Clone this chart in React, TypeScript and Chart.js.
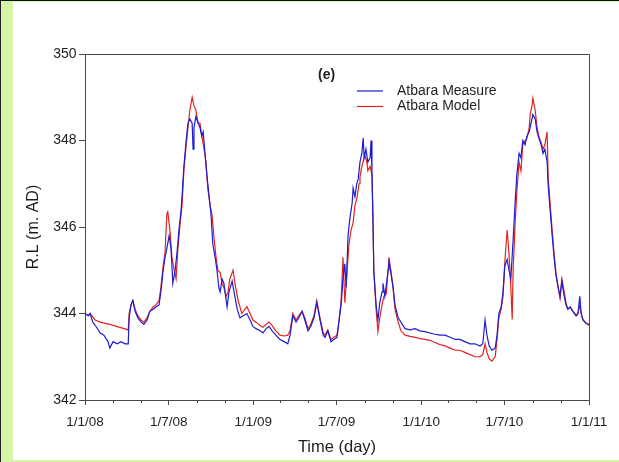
import { useEffect, useRef } from "react";
import { Chart, registerables } from "chart.js";

Chart.register(...registerables);

const FONT = '"Liberation Sans", Arial, Helvetica, sans-serif';

// Day numbers are counted from 1 Jan 2008; levels are R.L in metres AD.
const measureDays = [
  0, 7, 11, 17, 24, 33, 41, 50, 54, 61,
  70, 78, 87, 94, 96, 100, 104, 109, 115, 122,
  128, 135, 141, 148, 154, 161, 165, 170, 174, 178,
  183, 187, 191, 196, 200, 204, 209, 211, 215, 220,
  224, 228, 233, 235, 237, 241, 246, 250, 254, 257,
  261, 265, 270, 274, 278, 283, 287, 291, 294, 298,
  302, 307, 309, 313, 320, 324, 331, 337, 344, 352,
  359, 365, 372, 381, 387, 394, 400, 407, 415, 424,
  433, 441, 446, 452, 459, 465, 472, 478, 485, 491,
  498, 504, 511, 518, 522, 528, 535, 541, 548, 552,
  557, 561, 565, 568, 572, 576, 581, 583, 587, 591,
  594, 598, 602, 605, 607, 611, 615, 620, 622, 624,
  626, 628, 633, 637, 641, 646, 648, 652, 657, 661,
  665, 670, 674, 681, 687, 696, 707, 718, 728, 739,
  750, 761, 772, 783, 794, 805, 815, 826, 837, 848,
  859, 865, 870, 874, 879, 885, 892, 896, 900, 905,
  909, 913, 918, 922, 926, 931, 935, 939, 944, 948,
  952, 957, 961, 966, 970, 974, 979, 983, 987, 992,
  996, 1000, 1005, 1007, 1011, 1016, 1020, 1024, 1029, 1033,
  1037, 1042, 1046, 1050, 1055, 1061, 1068, 1072, 1076, 1079,
  1083, 1089, 1096,
];

const measureLevels = [
  344.0, 343.95, 344.0, 343.8, 343.7, 343.55, 343.5, 343.35, 343.2, 343.35,
  343.3, 343.35, 343.3, 343.3, 343.9, 344.2, 344.3, 344.05, 343.9, 343.8,
  343.75, 343.85, 344.05, 344.1, 344.15, 344.2, 344.5, 345.0, 345.3, 345.5,
  345.8, 345.5, 344.7, 345.0, 345.4, 345.9, 346.4, 346.7, 347.4, 348.0,
  348.4, 348.5, 348.4, 347.8, 348.3, 348.55, 348.4, 348.3, 348.1, 348.2,
  347.7, 347.2, 346.7, 346.3, 345.6, 345.3, 345.0, 344.6, 344.5, 344.8,
  344.7, 344.3, 344.15, 344.5, 344.75, 344.5, 344.1, 343.9, 343.95, 344.0,
  343.85, 343.7, 343.65, 343.6, 343.55, 343.65, 343.7, 343.6, 343.5, 343.4,
  343.35, 343.3, 343.5, 343.95, 343.8, 343.9, 344.05, 343.85, 343.6, 343.7,
  343.9, 344.25, 343.85, 343.5, 343.45, 343.6, 343.35, 343.4, 343.45, 343.8,
  344.2, 344.8, 345.15, 344.6, 345.8, 346.2, 346.56, 346.9, 346.7, 347.0,
  347.1, 347.5, 347.7, 348.06, 347.6, 347.8, 347.5, 347.6, 348.0, 347.3,
  346.3, 345.0, 344.2, 343.85, 344.25, 344.5, 344.7, 344.4, 344.8, 345.2,
  344.95, 344.6, 344.2, 343.9, 343.8, 343.65, 343.62, 343.65, 343.6, 343.58,
  343.55, 343.52, 343.5, 343.5, 343.45, 343.4, 343.4, 343.35, 343.3, 343.3,
  343.25, 343.3, 343.85, 343.5, 343.25, 343.15, 343.2, 343.5, 344.0, 344.15,
  344.5, 345.1, 345.25, 345.0, 344.8, 345.7, 346.5, 347.2, 347.7, 347.6,
  348.0, 347.9, 348.1, 348.2, 348.4, 348.6, 348.5, 348.2, 348.05, 347.9,
  347.7, 347.8, 347.5, 347.0, 346.45, 345.8, 345.3, 344.9, 344.6, 344.4,
  344.75, 344.4, 344.2, 344.1, 344.15, 344.05, 343.95, 344.0, 344.4, 344.0,
  343.85, 343.78, 343.75,
];

const modelDays = [
  0, 7, 11, 22, 33, 54, 76, 94, 96, 100,
  104, 109, 115, 122, 128, 135, 141, 148, 154, 161,
  165, 170, 174, 178, 180, 185, 189, 194, 198, 202,
  207, 211, 215, 220, 224, 228, 233, 237, 241, 246,
  250, 254, 259, 263, 267, 272, 276, 281, 285, 289,
  294, 298, 302, 307, 311, 315, 322, 326, 333, 341,
  348, 352, 359, 365, 372, 381, 387, 394, 400, 407,
  415, 424, 433, 441, 446, 452, 459, 465, 472, 478,
  485, 491, 498, 504, 511, 518, 522, 528, 535, 541,
  548, 552, 557, 561, 563, 565, 570, 574, 578, 583,
  587, 591, 596, 598, 602, 607, 609, 613, 615, 620,
  624, 626, 628, 633, 637, 641, 646, 650, 655, 659,
  661, 665, 670, 674, 681, 687, 696, 707, 718, 728,
  739, 750, 761, 772, 783, 794, 805, 815, 826, 837,
  848, 859, 865, 870, 874, 879, 885, 892, 896, 900,
  905, 909, 913, 918, 922, 926, 929, 931, 935, 939,
  944, 948, 952, 957, 961, 966, 968, 972, 974, 979,
  983, 987, 992, 996, 1000, 1005, 1007, 1011, 1016, 1020,
  1024, 1029, 1033, 1037, 1042, 1046, 1050, 1055, 1061, 1068,
  1072, 1076, 1079, 1083, 1089, 1096,
];

const modelLevels = [
  344.0, 343.95, 344.0, 343.85, 343.8, 343.75, 343.68, 343.62, 344.0, 344.2,
  344.3, 344.1, 343.95, 343.85, 343.8, 343.9, 344.05, 344.15, 344.2, 344.3,
  344.6, 345.1, 345.4, 346.3, 346.35, 345.9, 345.3, 345.0, 344.8, 345.5,
  346.1, 346.5, 347.3, 347.9, 348.3, 348.7, 349.0, 348.8, 348.7, 348.4,
  348.4, 348.1, 347.8, 347.5, 346.9, 346.5, 346.3, 345.7, 345.3, 345.0,
  344.94, 344.7, 344.6, 344.4, 344.5, 344.8, 345.0, 344.7, 344.3, 344.0,
  344.1, 344.16, 344.0, 343.85, 343.8, 343.72, 343.68, 343.75, 343.8, 343.72,
  343.6, 343.5, 343.48, 343.5, 343.6, 344.0, 343.85, 343.95, 344.05, 343.9,
  343.65, 343.75, 343.95, 344.3, 343.9, 343.55, 343.5, 343.62, 343.4, 343.45,
  343.5, 343.8, 344.3, 345.3, 344.8, 344.25, 345.0, 345.6, 345.9, 346.1,
  346.5, 346.65, 347.0, 347.16, 347.4, 347.6, 347.65, 347.5, 347.3, 347.4,
  347.2, 346.3, 345.0, 344.1, 343.58, 343.9, 344.2, 344.4, 344.45, 345.0,
  345.3, 345.0, 344.6, 344.1, 343.8, 343.6, 343.5, 343.47, 343.45, 343.42,
  343.4, 343.38, 343.33, 343.28, 343.25, 343.2, 343.15, 343.15, 343.1, 343.05,
  343.0, 343.0, 343.05, 343.3, 343.1, 342.95, 342.9, 343.0, 343.4, 343.9,
  344.1, 344.4, 345.2, 345.93, 345.4, 344.6, 343.86, 345.0, 346.0, 346.8,
  347.5, 347.3, 347.9, 348.0, 348.05, 348.3, 348.6, 348.8, 348.98, 348.7,
  348.3, 348.1, 347.95, 347.8, 347.9, 348.2, 347.2, 346.6, 345.9, 345.4,
  344.95, 344.6, 344.35, 344.8, 344.5, 344.25, 344.1, 344.15, 344.05, 343.95,
  344.0, 344.2, 344.0, 343.85, 343.78, 343.72,
];

const seriesNames = ["Atbara Measure", "Atbara Model"];
const seriesColors = ["#1d1dd2", "#e2231f"];

const yTickValues = [342, 344, 346, 348, 350];
const xTickLabels = ["1/1/08", "1/7/08", "1/1/09", "1/7/09", "1/1/10", "1/7/10", "1/1/11"];
const minorTickMonths = [3, 5, 9, 11];
const panelTag = "(e)";

const DAY_MS = 86400000;
const ORIGIN = Date.UTC(2008, 0, 1);
const dayOf = (y: number, m: number, d: number) => Math.round((Date.UTC(y, m - 1, d) - ORIGIN) / DAY_MS);
const labelDay = (label: string) => {
  const [d, m, yy] = label.split("/").map(Number);
  return dayOf(2000 + yy, m, d);
};

const majorDays = xTickLabels.map(labelDay);
const minorDays: number[] = [];
for (let y = 2008; y <= 2010; y++) for (const m of minorTickMonths) minorDays.push(dayOf(y, m, 1));
const allTickDays = [...majorDays, ...minorDays].sort((a, b) => a - b);

const AXIS_COLOR = "#4a4a4a";
const TEXT_COLOR = "#1e1e1e";

const decorations = {
  id: "decorations",
  afterDraw(chart: any) {
    const { ctx, chartArea, scales } = chart;
    const xs = scales.x;
    ctx.save();
    // box outline on top and right
    ctx.strokeStyle = AXIS_COLOR;
    ctx.lineWidth = 1;
    ctx.beginPath();
    ctx.moveTo(chartArea.left, chartArea.top + 0.5);
    ctx.lineTo(chartArea.right + 0.5, chartArea.top + 0.5);
    ctx.lineTo(chartArea.right + 0.5, chartArea.bottom);
    ctx.stroke();
    // short minor ticks every other month
    ctx.beginPath();
    for (const d of minorDays) {
      const px = Math.round(xs.getPixelForValue(d)) + 0.5;
      ctx.moveTo(px, chartArea.bottom);
      ctx.lineTo(px, chartArea.bottom + 3);
    }
    ctx.stroke();
    // panel tag
    ctx.fillStyle = TEXT_COLOR;
    ctx.font = `bold 14px ${FONT}`;
    ctx.textBaseline = "middle";
    ctx.textAlign = "left";
    ctx.fillText(panelTag, 318, 75);
    // legend
    ctx.font = `14px ${FONT}`;
    chart.data.datasets.forEach((ds: any, i: number) => {
      const y = 91 + i * 15.5;
      ctx.strokeStyle = ds.borderColor;
      ctx.lineWidth = 1.2;
      ctx.beginPath();
      ctx.moveTo(357, y);
      ctx.lineTo(383, y);
      ctx.stroke();
      ctx.fillStyle = TEXT_COLOR;
      ctx.fillText(ds.label, 397, y);
    });
    ctx.restore();
  },
};

export default function App() {
  const canvasRef = useRef<HTMLCanvasElement | null>(null);

  useEffect(() => {
    if (!canvasRef.current) return;
    const chart = new Chart(canvasRef.current, {
      type: "line",
      data: {
        datasets: [
          {
            label: seriesNames[0],
            data: measureDays.map((d, i) => ({ x: d, y: measureLevels[i] })),
            borderColor: seriesColors[0],
            borderWidth: 1.2,
            pointRadius: 0,
            tension: 0,
            fill: false,
          },
          {
            label: seriesNames[1],
            data: modelDays.map((d, i) => ({ x: d, y: modelLevels[i] })),
            borderColor: seriesColors[1],
            borderWidth: 1.2,
            pointRadius: 0,
            tension: 0,
            fill: false,
          },
        ],
      },
      options: {
        animation: false,
        responsive: false,
        devicePixelRatio: 1,
        layout: { padding: { top: 54, right: 30, left: 0, bottom: 0 } },
        plugins: { legend: { display: false }, tooltip: { enabled: false } },
        scales: {
          x: {
            type: "linear",
            min: 0,
            max: majorDays[majorDays.length - 1],
            afterFit: (s: any) => {
              s.height = 62;
            },
            afterBuildTicks: (s: any) => {
              s.ticks = allTickDays.map((v) => ({ value: v }));
            },
            ticks: {
              autoSkip: false,
              maxRotation: 0,
              padding: 9,
              color: TEXT_COLOR,
              font: { family: FONT, size: 13.5 },
              callback: (v: any) => {
                const k = majorDays.indexOf(Number(v));
                return k >= 0 ? xTickLabels[k] : "";
              },
            },
            grid: {
              drawOnChartArea: false,
              tickLength: 5,
              tickColor: (c: any) =>
                c.tick && majorDays.includes(c.tick.value) ? AXIS_COLOR : "rgba(0,0,0,0)",
            },
            border: { color: AXIS_COLOR, width: 1 },
            title: {
              display: true,
              text: "Time (day)",
              color: TEXT_COLOR,
              font: { family: FONT, size: 16.5 },
              padding: { top: 0, bottom: 5 },
            },
          },
          y: {
            type: "linear",
            min: yTickValues[0],
            max: yTickValues[yTickValues.length - 1],
            afterFit: (s: any) => {
              s.width = 85;
            },
            afterBuildTicks: (s: any) => {
              s.ticks = yTickValues.map((v) => ({ value: v }));
            },
            ticks: {
              padding: 2.5,
              color: TEXT_COLOR,
              font: { family: FONT, size: 14 },
            },
            grid: { drawOnChartArea: false, tickLength: 6, tickColor: AXIS_COLOR },
            border: { color: AXIS_COLOR, width: 1 },
            title: {
              display: true,
              text: "R.L (m. AD)",
              color: TEXT_COLOR,
              font: { family: FONT, size: 16 },
              padding: { top: 24, bottom: 0 },
            },
          },
        },
      },
      plugins: [decorations],
    });
    return () => chart.destroy();
  }, []);

  return (
    <div
      style={{
        position: "absolute",
        left: 0,
        top: 0,
        width: 619,
        height: 462,
        background: "#d7f5a7",
        overflow: "hidden",
      }}
    >
      <div style={{ position: "absolute", left: 0, top: 0, width: 619, height: 1, background: "#111" }} />
      <div style={{ position: "absolute", left: 0, top: 0, width: 1, height: 462, background: "#222" }} />
      <div style={{ position: "absolute", left: 13, top: 2, width: 606, height: 458, background: "#fff" }} />
      <canvas
        ref={canvasRef}
        width={619}
        height={462}
        style={{ position: "absolute", left: 0, top: 0, width: 619, height: 462 }}
      />
    </div>
  );
}
